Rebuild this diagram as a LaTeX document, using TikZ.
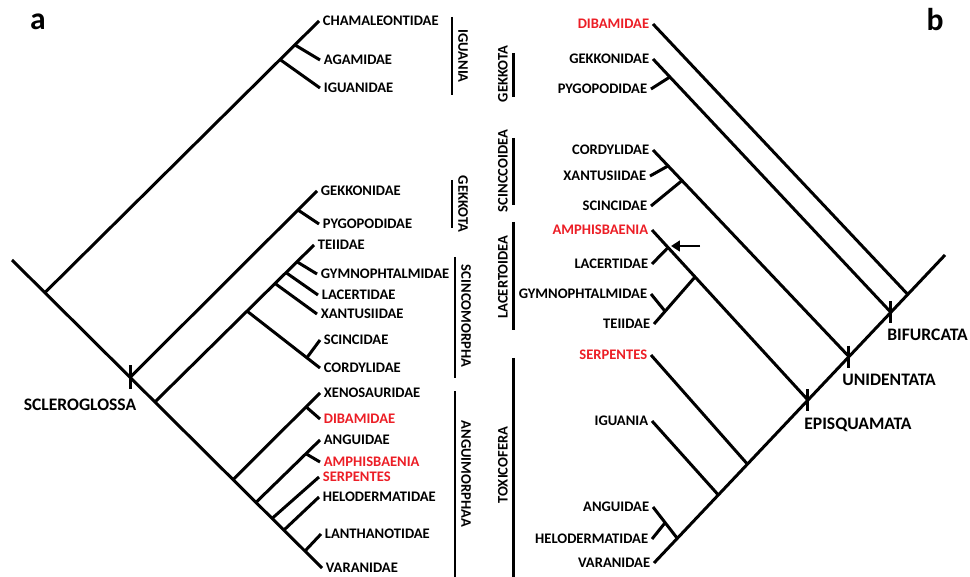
\documentclass[tikz,border=0pt]{standalone}
\usepackage{fontspec}
\setmainfont{Carlito}
\usetikzlibrary{calc,arrows.meta}
\definecolor{taxred}{RGB}{236,30,38}
\tikzset{
  branch/.style={line width=1.7pt},
  bar/.style={line width=1.7pt},
  leafl/.style={anchor=west,inner sep=2pt,font=\bfseries\fontsize{8.3}{10}\selectfont},
  leafr/.style={anchor=east,inner sep=2pt,font=\bfseries\fontsize{8.3}{10}\selectfont},
  grp/.style={inner sep=0pt,font=\bfseries\fontsize{8.3}{10}\selectfont},
  clade/.style={inner sep=0pt,font=\bfseries\fontsize{10}{12}\selectfont},
  panel/.style={inner sep=0pt,font=\bfseries\fontsize{18}{20}\selectfont}
}
\begin{document}
\begin{tikzpicture}[x=0.02cm,y=-0.02cm]
    \useasboundingbox (0,0) rectangle (970,577);
    \node[panel] (pa) at (38,22) {a};
    \node[panel] (pb) at (935,20) {b};
    \node[leafl] (chamA) at (319,21) {CHAMALEONTIDAE};
    \node[leafl] (agaA) at (320,60) {AGAMIDAE};
    \node[leafl] (iguA) at (320,88) {IGUANIDAE};
    \node[leafl] (gekA) at (317,191) {GEKKONIDAE};
    \node[leafl] (pygA) at (319,224) {PYGOPODIDAE};
    \node[leafl] (teiA) at (314,245) {TEIIDAE};
    \node[leafl] (gymA) at (317,274) {GYMNOPHTALMIDAE};
    \node[leafl] (lacA) at (318,295) {LACERTIDAE};
    \node[leafl] (xanA) at (317,314) {XANTUSIIDAE};
    \node[leafl] (sciA) at (320,340) {SCINCIDAE};
    \node[leafl] (corA) at (320,368) {CORDYLIDAE};
    \node[leafl] (xenA) at (320,393) {XENOSAURIDAE};
    \node[leafl,text=taxred] (dibA) at (320,419) {DIBAMIDAE};
    \node[leafl] (angA) at (320,440) {ANGUIDAE};
    \node[leafl,text=taxred] (amphA) at (320,462) {AMPHISBAENIA};
    \node[leafl,text=taxred] (serA) at (319,477) {SERPENTES};
    \node[leafl] (helA) at (319,497) {HELODERMATIDAE};
    \node[leafl] (lanA) at (321,534) {LANTHANOTIDAE};
    \node[leafl] (varA) at (322,568) {VARANIDAE};
    \coordinate (rootA) at (12,260);
    \coordinate (igjA) at ($(rootA)!0.106!(varA.west)$);
    \coordinate (sclA) at ($(rootA)!0.381!(varA.west)$);
    \coordinate (sqjA) at ($(rootA)!0.461!(varA.west)$);
    \coordinate (an1A) at ($(rootA)!0.713!(varA.west)$);
    \coordinate (an2A) at ($(rootA)!0.787!(varA.west)$);
    \coordinate (sejA) at ($(rootA)!0.839!(varA.west)$);
    \coordinate (hejA) at ($(rootA)!0.877!(varA.west)$);
    \coordinate (lvjA) at ($(rootA)!0.945!(varA.west)$);
    \draw[branch] (rootA) -- (varA.west);
    \draw[branch] (sclA) ++(0,-12) -- ++(0,24);
    \node[clade] (scleroA) at (80,405) {SCLEROGLOSSA};
    \draw[branch] (igjA) -- (chamA.west);
    \draw[branch] ($(igjA)!0.858!(chamA.west)$) -- (iguA.west);
    \draw[branch] ($(igjA)!0.912!(chamA.west)$) -- (agaA.west);
    \draw[branch] (sclA) -- (gekA.west);
    \draw[branch] ($(sclA)!0.898!(gekA.west)$) -- (pygA.west);
    \draw[branch] (sqjA) -- (teiA.west);
    \draw[branch] ($(sqjA)!0.893!(teiA.west)$) -- (gymA.west);
    \draw[branch] ($(sqjA)!0.824!(teiA.west)$) -- (lacA.west);
    \draw[branch] ($(sqjA)!0.755!(teiA.west)$) -- (xanA.west);
    \coordinate (scjA) at ($(sqjA)!0.579!(teiA.west)$);
    \draw[branch] (scjA) -- (corA.west);
    \draw[branch] ($(scjA)!0.82!(corA.west)$) -- (sciA.west);
    \draw[branch] (an1A) -- (xenA.west);
    \draw[branch] ($(an1A)!0.84!(xenA.west)$) -- (dibA.west);
    \draw[branch] (an2A) -- (angA.west);
    \draw[branch] ($(an2A)!0.78!(angA.west)$) -- (amphA.west);
    \draw[branch] (sejA) -- (serA.west);
    \draw[branch] (hejA) -- (helA.west);
    \draw[branch] (lvjA) -- (lanA.west);
    \draw[bar] (452,17) -- (452,95);
    \node[grp,rotate=-90] (iguaniaA) at (463,56) {IGUANIA};
    \draw[bar] (452,180) -- (452,228);
    \node[grp,rotate=-90] (gekkotaA) at (463,204) {GEKKOTA};
    \draw[bar] (455,257) -- (455,378);
    \node[grp,rotate=-90] (scincoA) at (466,316) {SCINCOMORPHA};
    \draw[bar] (455,391) -- (455,577);
    \node[grp,rotate=-90] (anguiA) at (466,474) {ANGUIMORPHAA};
    \node[leafr,text=taxred] (dibB) at (653,24) {DIBAMIDAE};
    \node[leafr] (gekB) at (653,59) {GEKKONIDAE};
    \node[leafr] (pygB) at (651,89) {PYGOPODIDAE};
    \node[leafr] (corB) at (653,150) {CORDYLIDAE};
    \node[leafr] (xanB) at (650,176) {XANTUSIIDAE};
    \node[leafr] (sciB) at (651,206) {SCINCIDAE};
    \node[leafr,text=taxred] (amphB) at (652,230) {AMPHISBAENIA};
    \node[leafr] (lacB) at (652,264) {LACERTIDAE};
    \node[leafr] (gymB) at (651,294) {GYMNOPHTALMIDAE};
    \node[leafr] (teiB) at (654,324) {TEIIDAE};
    \node[leafr,text=taxred] (serB) at (651,355) {SERPENTES};
    \node[leafr] (iguB) at (652,421) {IGUANIA};
    \node[leafr] (angB) at (653,507) {ANGUIDAE};
    \node[leafr] (helB) at (652,539) {HELODERMATIDAE};
    \node[leafr] (varB) at (654,563) {VARANIDAE};
    \coordinate (topB) at (945,255);
    \coordinate (ahjB) at ($(varB.east)!0.08!(topB)$);
    \coordinate (igjB) at ($(varB.east)!0.221!(topB)$);
    \coordinate (sejB) at ($(varB.east)!0.321!(topB)$);
    \coordinate (epiB) at ($(varB.east)!0.529!(topB)$);
    \coordinate (uniB) at ($(varB.east)!0.67!(topB)$);
    \coordinate (bifB) at ($(varB.east)!0.814!(topB)$);
    \coordinate (dibjB) at ($(varB.east)!0.872!(topB)$);
    \draw[branch] (varB.east) -- (topB);
    \draw[branch] (epiB) ++(0,-11) -- ++(0,22);
    \draw[branch] (uniB) ++(0,-11) -- ++(0,22);
    \draw[branch] (bifB) ++(0,-11) -- ++(0,22);
    \node[clade,anchor=west] (bifurB) at (887,335) {BIFURCATA};
    \node[clade,anchor=west] (unidB) at (842,380) {UNIDENTATA};
    \node[clade,anchor=west] (episB) at (804,425) {EPISQUAMATA};
    \draw[branch] (ahjB) -- (angB.east);
    \draw[branch] ($(ahjB)!0.5!(angB.east)$) -- (helB.east);
    \draw[branch] (igjB) -- (iguB.east);
    \draw[branch] (sejB) -- (serB.east);
    \draw[branch] (epiB) -- (amphB.east);
    \coordinate (teijB) at ($(epiB)!0.724!(amphB.east)$);
    \draw[branch] ($(epiB)!0.897!(amphB.east)$) -- (lacB.east);
    \draw[branch] (teijB) -- (teiB.east);
    \draw[branch] ($(teijB)!0.73!(teiB.east)$) -- (gymB.east);
    \draw[branch] (uniB) -- (corB.east);
    \draw[branch] ($(uniB)!0.923!(corB.east)$) -- (xanB.east);
    \draw[branch] ($(uniB)!0.852!(corB.east)$) -- (sciB.east);
    \draw[branch] (bifB) -- (gekB.east);
    \draw[branch] ($(bifB)!0.929!(gekB.east)$) -- (pygB.east);
    \draw[branch] (dibjB) -- (dibB.east);
    \coordinate (arrtailB) at (700,246);
    \coordinate (arrtipB) at (671,246);
    \draw[branch,-{Triangle[length=5pt,width=6pt]}] (arrtailB) -- (arrtipB);
    \draw[bar] (513,53) -- (513,97);
    \node[grp,rotate=90] (gekkotaB) at (503,74) {GEKKOTA};
    \draw[bar] (513,138) -- (513,205);
    \node[grp,rotate=90] (scincB) at (503,171) {SCINCCOIDEA};
    \draw[bar] (513,222) -- (513,330);
    \node[grp,rotate=90] (lacertB) at (503,277) {LACERTOIDEA};
    \draw[bar] (513,358) -- (513,577);
    \node[grp,rotate=90] (toxB) at (503,465) {TOXICOFERA};
\end{tikzpicture}
\end{document}
